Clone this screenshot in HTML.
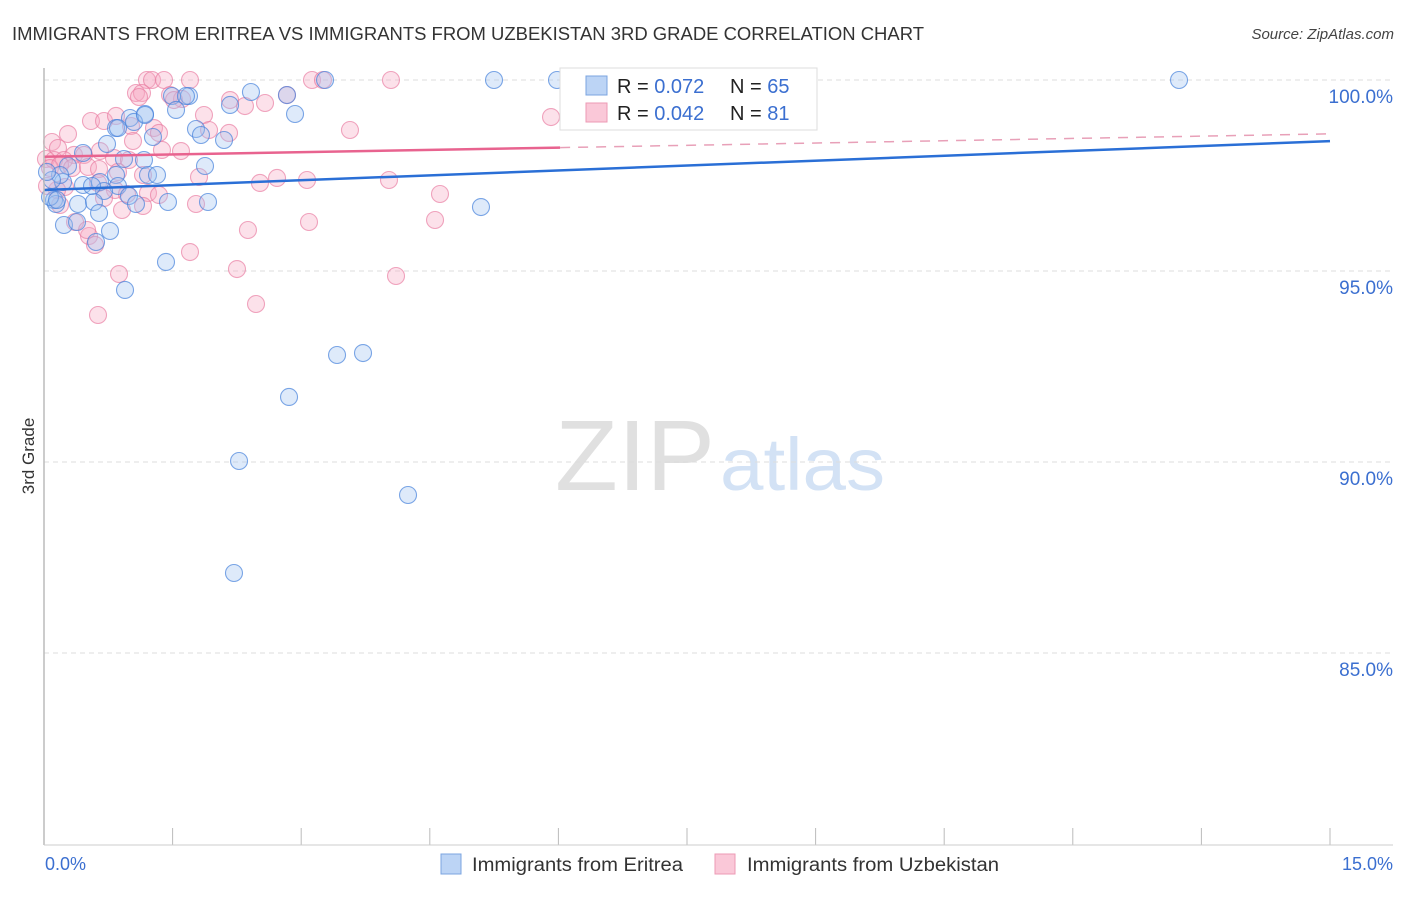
<!DOCTYPE html>
<html><head><meta charset="utf-8"><style>
body{margin:0;background:#fff;font-family:"Liberation Sans",sans-serif;}
svg text{font-family:"Liberation Sans",sans-serif;}
</style></head><body>
<svg id="c" width="1406" height="892" xmlns="http://www.w3.org/2000/svg">
<text x="12" y="40" font-size="18" fill="#333" textLength="912" lengthAdjust="spacingAndGlyphs">IMMIGRANTS FROM ERITREA VS IMMIGRANTS FROM UZBEKISTAN 3RD GRADE CORRELATION CHART</text>
<text x="1394" y="39" font-size="15" fill="#444" font-style="italic" text-anchor="end">Source: ZipAtlas.com</text>
<text x="715" y="490" font-size="100" fill="#e0e0e0" text-anchor="end" textLength="160" lengthAdjust="spacingAndGlyphs" font-family="Liberation Serif">ZIP</text>
<text x="720" y="490" font-size="74" fill="#d3e2f5" textLength="165" lengthAdjust="spacingAndGlyphs">atlas</text>
<text transform="translate(34,456) rotate(-90)" font-size="17" fill="#333" text-anchor="middle">3rd Grade</text>
<g id="grid"></g><g id="pts"></g><g id="lines"></g>
<line x1="44" y1="68" x2="44" y2="845" stroke="#bbb" stroke-width="1.5"/>
<line x1="44" y1="845" x2="1393" y2="845" stroke="#ccc" stroke-width="1"/>
<text x="45" y="870" font-size="18" fill="#3b6fd0">0.0%</text>
<text x="1393" y="870" font-size="18" fill="#3b6fd0" text-anchor="end">15.0%</text>
<g>
<rect x="560" y="68" width="257" height="62" fill="#fff" stroke="#ddd"/>
<rect x="586" y="76" width="21" height="19" fill="#bcd4f5" stroke="#7ba4e0"/>
<rect x="586" y="103" width="21" height="19" fill="#fac8d8" stroke="#ec9ab4"/>
<text x="617" y="93" font-size="20" fill="#222">R = <tspan fill="#3b6fd0">0.072</tspan><tspan x="730">N = </tspan><tspan fill="#3b6fd0">65</tspan></text>
<text x="617" y="120" font-size="20" fill="#222">R = <tspan fill="#3b6fd0">0.042</tspan><tspan x="730">N = </tspan><tspan fill="#3b6fd0">81</tspan></text>
</g>
<rect x="441" y="854" width="20" height="20" fill="#bcd4f5" stroke="#7ba4e0"/>
<text x="472" y="871" font-size="19" fill="#333" textLength="211" lengthAdjust="spacingAndGlyphs">Immigrants from Eritrea</text>
<rect x="715" y="854" width="20" height="20" fill="#fac8d8" stroke="#ec9ab4"/>
<text x="747" y="871" font-size="19" fill="#333" textLength="252" lengthAdjust="spacingAndGlyphs">Immigrants from Uzbekistan</text>
</svg>
<script>
const yTicks=[100,95,90,85];
const xTickVals=[0,1.5,3,4.5,6,7.5,9,10.5,12,13.5,15];
const bluePx=[[494,80],[557,80],[1179,80],[325,80],[622,80],[251,92],[287,95],[189,96],[172,96],[230,105],[295,114],[176,110],[145,114],[130,118],[116,128],[134,122],[153,137],[196,129],[201,135],[224,140],[107,144],[144,160],[124,159],[83,153],[68,166],[205,166],[148,175],[157,175],[116,175],[100,182],[83,185],[63,182],[60,175],[52,180],[118,186],[104,191],[129,196],[54,200],[56,204],[78,204],[94,202],[136,204],[168,202],[208,202],[99,213],[481,207],[64,225],[77,222],[110,231],[96,242],[166,262],[125,290],[337,355],[363,353],[289,397],[239,461],[408,495],[234,573],[50,197],[47,172],[57,200],[186,96],[145,115],[118,128],[92,186]];
const pinkPx=[[147,80],[152,80],[164,80],[190,80],[312,80],[323,80],[391,80],[136,93],[142,93],[170,95],[182,99],[265,103],[245,106],[230,100],[287,95],[204,115],[551,117],[91,121],[104,121],[116,116],[131,126],[154,128],[159,133],[209,130],[229,133],[350,130],[68,134],[52,142],[58,148],[74,155],[84,155],[46,159],[54,160],[64,160],[100,151],[114,158],[129,160],[162,150],[181,151],[50,168],[60,165],[72,168],[88,167],[99,169],[118,172],[143,175],[199,177],[260,183],[277,178],[307,180],[389,180],[440,194],[115,190],[127,194],[148,193],[159,195],[65,187],[57,190],[47,186],[104,198],[143,206],[196,204],[122,210],[309,222],[435,220],[248,230],[75,222],[89,236],[95,245],[190,252],[237,269],[396,276],[119,274],[256,304],[98,315],[60,205],[87,230],[133,141],[174,100],[139,97],[98,183]];
const blueX=bluePx.map(p=>+((p[0]-44)/85.733).toFixed(3));
const blueY=bluePx.map(p=>+(100-(p[1]-80)/38.2).toFixed(3));
const pinkX=pinkPx.map(p=>+((p[0]-44)/85.733).toFixed(3));
const pinkY=pinkPx.map(p=>+(100-(p[1]-80)/38.2).toFixed(3));
const blueTrend=[97.12,98.40];
const pinkTrend=[97.99,98.59];
const pinkSolidEnd=6.02;
const sx=v=>44+v*85.733, sy=v=>80+(100-v)*38.2;
const NS="http://www.w3.org/2000/svg";
function mk(t,a,parent){const e=document.createElementNS(NS,t);for(const k in a)e.setAttribute(k,a[k]);document.getElementById(parent).appendChild(e);return e;}
yTicks.forEach(v=>{
 const l=mk('line',{x1:44,x2:1393,y1:sy(v),y2:sy(v),stroke:'#ddd','stroke-dasharray':'5,4'},'grid');
 
 
 const t=mk('text',{x:1393,y:sy(v)+23,'font-size':19,fill:'#3b6fd0','text-anchor':'end'},'grid');t.textContent=v.toFixed(1)+'%';
 
 
});
xTickVals.forEach(v=>{
 const l=mk('line',{x1:sx(v),x2:sx(v),y1:828,y2:845,stroke:'#bbb'},'grid');
 
 
});
pinkX.forEach((x,i)=>{
 const c=mk('circle',{cx:sx(x),cy:sy(pinkY[i]),r:8.5,fill:'rgba(246,170,195,0.35)',stroke:'rgba(232,120,158,0.65)','stroke-width':1.1},'pts');
 
 
});
blueX.forEach((x,i)=>{
 const c=mk('circle',{cx:sx(x),cy:sy(blueY[i]),r:8.5,fill:'rgba(160,195,240,0.35)',stroke:'rgba(70,130,220,0.7)','stroke-width':1.1},'pts');
 
 
});
const pm=(pinkTrend[1]-pinkTrend[0])/15;
let l1=mk('line',{x1:sx(0),y1:sy(pinkTrend[0]),x2:sx(pinkSolidEnd),y2:sy(pinkTrend[0]+pm*pinkSolidEnd),stroke:'#e8638f','stroke-width':2.5},'lines');


let l2=mk('line',{x1:sx(pinkSolidEnd),y1:sy(pinkTrend[0]+pm*pinkSolidEnd),x2:sx(15),y2:sy(pinkTrend[1]),stroke:'#e8a0b8','stroke-width':1.5,'stroke-dasharray':'10,8'},'lines');


let l3=mk('line',{x1:sx(0),y1:sy(blueTrend[0]),x2:sx(15),y2:sy(blueTrend[1]),stroke:'#2a6fd6','stroke-width':2.5},'lines');


</script>
</body></html>
